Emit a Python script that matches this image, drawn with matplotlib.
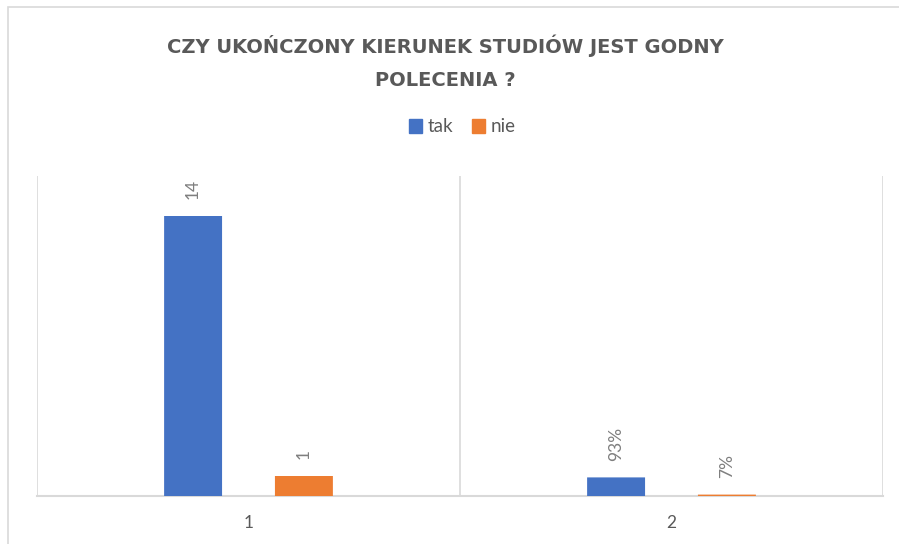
import matplotlib
matplotlib.use("Agg")
import matplotlib.pyplot as plt
from matplotlib.patches import Rectangle, Patch

# data
categories = ["1", "2"]
series_names = ["tak", "nie"]
tak = [14, 0.93]
nie = [1, 0.07]
label_fmt = ["{:.0f}", "{:.0%}"]   # first group counts, second group shares

colors = ["#4472C4", "#ED7D31"]
grid_col = "#D9D9D9"

plt.rcParams["font.family"] = ["Lato", "DejaVu Sans"]

fig = plt.figure(figsize=(8.99, 5.44), dpi=100)

# chart area border (runs off the right / bottom of the picture)
fig.patches.append(Rectangle((8 / 899, -0.05), 1.0, 1 - 7 / 544 + 0.05,
                             transform=fig.transFigure, fill=False,
                             edgecolor=grid_col, linewidth=1.2))

ax = fig.add_axes([37 / 899, 48 / 544, (883 - 37) / 899, (496 - 176) / 544])

x = range(len(categories))
width = 0.137
offset = 0.131
for i, (name, vals) in enumerate(zip(series_names, [tak, nie])):
    pos = [c + (i * 2 - 1) * offset for c in x]
    bars = ax.bar(pos, vals, width=width, color=colors[i], label=name,
                  linewidth=0, snap=False, zorder=3)
    for j, b in enumerate(bars):
        ax.annotate(label_fmt[j].format(vals[j]),
                    (b.get_x() + b.get_width() / 2, b.get_height()),
                    xytext=(0, 12), textcoords="offset points",
                    rotation=90, ha="center", va="bottom",
                    fontsize=12.5, color="#7F7F7F")

ax.set_xlim(-0.5, len(categories) - 0.5)
ax.set_ylim(0, 16)
ax.set_xticks(list(x))
ax.set_xticklabels(categories, fontsize=12.5, color="#595959")
ax.tick_params(axis="x", length=0, pad=14)
ax.set_yticks([])

for s in ["top", "right", "left"]:
    ax.spines[s].set_visible(False)
ax.spines["bottom"].set_color(grid_col)
ax.spines["bottom"].set_linewidth(1.5)
ax.spines["bottom"].set_zorder(1)
# category separators
for xv in [-0.5, 0.5, 1.5]:
    ax.axvline(xv, color=grid_col, linewidth=1.2, zorder=1)

title_kw = dict(ha="center", va="center", fontsize=14, fontweight="bold",
                color="#595959", family="DejaVu Sans")
fig.text(445 / 899, 1 - 46 / 544, "CZY UKOŃCZONY KIERUNEK STUDIÓW JEST GODNY", **title_kw)
fig.text(445 / 899, 1 - 80 / 544, "POLECENIA ?", **title_kw)

handles = [Patch(color=c) for c in colors]
fig.legend(handles, series_names, loc="center", bbox_to_anchor=(462 / 899, 1 - 127 / 544),
           ncol=2, frameon=False, fontsize=13.5, handlelength=0.7, handleheight=0.7,
           handletextpad=0.3, columnspacing=1.0, labelcolor="#595959")

fig.savefig("out.png", dpi=100)
